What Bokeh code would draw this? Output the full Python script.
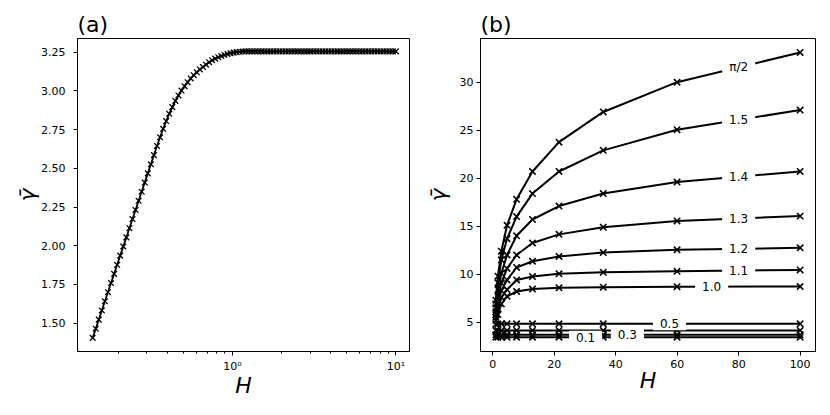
import numpy as np
from bokeh.plotting import figure
from bokeh.layouts import row
from bokeh.models import Range1d, FixedTicker, Label, PrintfTickFormatter
from bokeh.embed import file_html
from bokeh.resources import INLINE

# ---------------- data: panel (a) ----------------
H_a = [0.1400, 0.1462, 0.1526, 0.1593, 0.1663, 0.1736, 0.1813, 0.1893, 0.1976, 0.2063,
       0.2154, 0.2250, 0.2349, 0.2452, 0.2560, 0.2673, 0.2791, 0.2914, 0.3042, 0.3176,
       0.3316, 0.3462, 0.3615, 0.3774, 0.3940, 0.4114, 0.4295, 0.4484, 0.4682, 0.4888,
       0.5104, 0.5329, 0.5563, 0.5808, 0.6064, 0.6332, 0.6611, 0.6902, 0.7206, 0.7524,
       0.7855, 0.8202, 0.8563, 0.8940, 0.9334, 0.9745, 1.0175, 1.0623, 1.1091, 1.1580,
       1.2090, 1.2623, 1.3179, 1.3760, 1.4366, 1.4999, 1.5660, 1.6350, 1.7070, 1.7822,
       1.8608, 1.9428, 2.0284, 2.1178, 2.2111, 2.3085, 2.4102, 2.5164, 2.6273, 2.7430,
       2.8639, 2.990, 3.122, 3.259, 3.403, 3.553, 3.709, 3.873, 4.043, 4.222,
       4.407, 4.601, 4.804, 5.016, 5.237, 5.467, 5.708, 5.960, 6.222, 6.496,
       6.783, 7.081, 7.393, 7.719, 8.059, 8.414, 8.785, 9.172, 9.576, 10.00]
gamma_a = [1.405, 1.464, 1.523, 1.582, 1.641, 1.700, 1.759, 1.818, 1.877, 1.936,
           1.995, 2.054, 2.113, 2.172, 2.231, 2.290, 2.349, 2.408, 2.467, 2.526,
           2.585, 2.644, 2.700, 2.755, 2.805, 2.852, 2.895, 2.935, 2.970, 3.002,
           3.030, 3.056, 3.080, 3.101, 3.120, 3.138, 3.154, 3.169, 3.185, 3.198,
           3.208, 3.217, 3.225, 3.232, 3.238, 3.243, 3.247, 3.250, 3.252, 3.254,
           3.255, 3.255, 3.255, 3.255, 3.255, 3.255, 3.255, 3.255, 3.255, 3.255,
           3.255, 3.255, 3.255, 3.255, 3.255, 3.255, 3.255, 3.255, 3.255, 3.255,
           3.255, 3.255, 3.255, 3.255, 3.255, 3.255, 3.255, 3.255, 3.255, 3.255,
           3.255, 3.255, 3.255, 3.255, 3.255, 3.255, 3.255, 3.255, 3.255, 3.255,
           3.255, 3.255, 3.255, 3.255, 3.255, 3.255, 3.255, 3.255, 3.255, 3.255]
x_ticks_a = [1, 10]
x_tick_labels_a = ["10\u2070", "10\u00b9"]
y_ticks_a = [1.50, 1.75, 2.00, 2.25, 2.50, 2.75, 3.00, 3.25]

# ---------------- data: panel (b) ----------------
H_b = [1.0, 1.668, 2.783, 4.642, 7.743, 12.915, 21.544, 35.938, 59.948, 100.0]
theta_labels = ["0.1", "0.3", "", "0.5", "1.0", "1.1", "1.2", "1.3", "1.4", "1.5", "\u03c0/2"]
g_01 = [3.44, 3.44, 3.44, 3.44, 3.44, 3.44, 3.44, 3.44, 3.44, 3.44]
g_03 = [3.69, 3.69, 3.69, 3.69, 3.69, 3.69, 3.69, 3.69, 3.69, 3.69]
g_04 = [4.13, 4.14, 4.14, 4.14, 4.14, 4.14, 4.14, 4.14, 4.14, 4.14]
g_05 = [4.80, 4.82, 4.83, 4.83, 4.83, 4.83, 4.83, 4.83, 4.83, 4.83]
g_10 = [5.2, 5.8, 6.9, 7.7, 8.2, 8.45, 8.58, 8.65, 8.70, 8.72]
g_11 = [5.5, 6.4, 7.6, 8.4, 9.4, 9.76, 10.04, 10.2, 10.3, 10.45]
g_12 = [5.8, 7.0, 8.3, 9.4, 10.7, 11.35, 11.85, 12.26, 12.54, 12.75]
g_13 = [6.1, 7.7, 9.1, 10.6, 12.0, 13.25, 14.15, 14.9, 15.55, 16.05]
g_14 = [6.5, 8.4, 10.1, 12.0, 14.0, 15.7, 17.1, 18.4, 19.6, 20.7]
g_15 = [6.9, 9.1, 11.5, 13.7, 16.0, 18.4, 20.7, 22.9, 25.05, 27.1]
g_pi2 = [7.3, 9.8, 12.4, 15.1, 17.8, 20.7, 23.75, 26.9, 30.0, 33.1]
gamma_b = [g_01, g_03, g_04, g_05, g_10, g_11, g_12, g_13, g_14, g_15, g_pi2]
x_ticks_b = [0, 20, 40, 60, 80, 100]
y_ticks_b = [5, 10, 15, 20, 25, 30]

# label placement along H (layout only)
label_H = [30.2, 43.8, None, 57.5, 71.2, 80.0, 80.0, 80.0, 80.0, 80.0, 80.0]

FONT = "DejaVu Sans"


def style(p, title):
    p.title.text = title
    p.title.text_font = FONT
    p.title.text_font_size = "22px"
    p.title.text_font_style = "normal"
    p.title.text_color = "black"
    p.title.align = "left"
    p.title.offset = 0
    p.title.standoff = 3
    p.background_fill_color = "white"
    p.border_fill_color = "white"
    p.outline_line_color = "black"
    p.outline_line_width = 1
    p.xgrid.grid_line_color = None
    p.ygrid.grid_line_color = None
    for ax in (p.xaxis[0], p.yaxis[0]):
        ax.axis_line_color = "black"
        ax.major_tick_line_color = "black"
        ax.major_tick_out = 4
        ax.major_tick_in = 0
        ax.minor_tick_out = 2
        ax.minor_tick_in = 0
        ax.major_label_text_font = FONT
        ax.major_label_text_font_size = "11px"
        ax.major_label_text_color = "black"
        ax.axis_label_text_font = FONT
        ax.axis_label_text_font_size = "22px"
        ax.axis_label_text_font_style = "italic"
        ax.axis_label_text_color = "black"
    p.xaxis.axis_label = "H"
    p.yaxis.axis_label = "\u03b3\u0304"
    p.xaxis.major_label_standoff = 4
    p.xaxis.axis_label_standoff = -3


# ---------------- panel (a) ----------------
p1 = figure(x_axis_type="log", x_range=Range1d(0.1131, 12.1), y_range=Range1d(1.317, 3.338),
            frame_width=332, frame_height=313,
            min_border_left=77, min_border_right=6, min_border_top=38, min_border_bottom=50,
            output_backend="svg", toolbar_location=None)
style(p1, "(a)")
minor_a = [0.2, 0.3, 0.4, 0.5, 0.6, 0.7, 0.8, 0.9, 2, 3, 4, 5, 6, 7, 8, 9]
p1.xaxis.ticker = FixedTicker(ticks=x_ticks_a, minor_ticks=minor_a)
p1.xaxis.major_label_overrides = {float(t): s for t, s in zip(x_ticks_a, x_tick_labels_a)}
p1.yaxis.ticker = FixedTicker(ticks=y_ticks_a)
p1.yaxis.formatter = PrintfTickFormatter(format="%.2f")
p1.yaxis.minor_tick_line_color = None
p1.xaxis.minor_tick_line_color = "black"
p1.yaxis.major_label_standoff = 8
p1.yaxis.axis_label_standoff = -2

p1.line(H_a, gamma_a, line_color="black", line_width=1.8)
p1.scatter(H_a, gamma_a, marker="x", size=8, line_color="black", line_width=1.3)

# ---------------- panel (b) ----------------
p2 = figure(x_range=Range1d(-4.0, 105.0), y_range=Range1d(1.95, 34.55),
            frame_width=335, frame_height=313,
            min_border_left=65, min_border_right=7, min_border_top=38, min_border_bottom=50,
            output_backend="svg", toolbar_location=None)
style(p2, "(b)")
p2.xaxis.ticker = FixedTicker(ticks=x_ticks_b)
p2.yaxis.ticker = FixedTicker(ticks=y_ticks_b)
p2.xaxis.minor_tick_line_color = None
p2.yaxis.minor_tick_line_color = None
p2.yaxis.major_label_standoff = 3
p2.yaxis.axis_label_standoff = 6

for g in gamma_b:
    p2.line(H_b, g, line_color="black", line_width=2)
    p2.scatter(H_b, g, marker="x", size=9, line_color="black", line_width=1.6)

for lab, g, hx in zip(theta_labels, gamma_b, label_H):
    if not lab or hx is None:
        continue
    yv = float(np.interp(hx, H_b, g))
    p2.add_layout(Label(x=hx, y=yv, text=lab, text_align="center", text_baseline="middle",
                        text_font=FONT, text_font_size="12px", text_color="black",
                        background_fill_color="white", background_fill_alpha=1.0,
                        padding=dict(left=7, right=7, top=2, bottom=2)))

layout = row(p1, p2)
open("out.html", "w").write(file_html(layout, INLINE))
